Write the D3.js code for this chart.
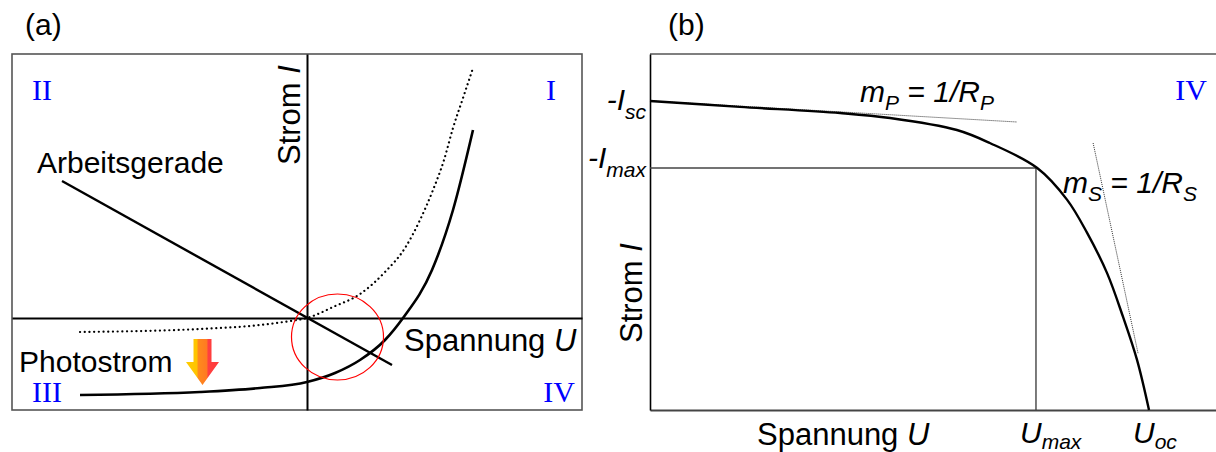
<!DOCTYPE html>
<html><head><meta charset="utf-8">
<script src="https://cdn.jsdelivr.net/npm/d3@7"></script>
<style>
html,body{margin:0;padding:0;background:#fff;}
svg{display:block;font-family:"Liberation Sans",Arial,sans-serif;}
</style></head>
<body><svg id="c" width="1216" height="452"></svg>
<script>
// ---------- DATA ----------
// Panel (a): characteristic curves (U, I) in arbitrary units
const darkCurveU = [-4.54,-2.14,-0.94,0,0.56,1.06,1.56,1.92,2.5,2.92,3.32];
const darkCurveI = [-1.54,-1.48,-1.40,-1.28,-1.10,-0.84,-0.44,0,0.96,2.16,3.76];
const lightCurveU = [-4.54,-2.14,-0.94,-0.34,0,0.52,1.06,1.56,1.96,2.26,2.52,2.74,2.92,3.12,3.32];
const lightCurveI = [-0.28,-0.22,-0.14,-0.06,0,0.22,0.48,0.92,1.4,1.96,2.56,3.16,3.8,4.4,5.0];
const loadLineU = [-4.9, 1.7];
const loadLineI = [2.74, -0.94];
const quadrantLabels = ["II","I","III","IV"];
// Panel (b): 4th quadrant IV curve, normalised (U/Uoc, -I/Isc)
const ivU = [0,0.18,0.381,0.481,0.615,0.681,0.776,0.836,0.876,0.916,0.948,0.976,1.0];
const ivI = [1.0,0.981,0.961,0.945,0.906,0.864,0.783,0.68,0.573,0.443,0.301,0.162,0];
const tangentPU = [0, 0.735];
const tangentPI = [1.0, 0.932];
const tangentSU = [0.888, 0.978];
const tangentSI = [0.864, 0.184];
const mppU = 0.7735, mppI = 0.783;
const bYTickValues = [1.0, 0.783];
const bYTickSubs = ["sc","max"];
const bXTickValues = [0.7735, 1.0];
const bXTickSubs = ["max","oc"];

// ---------- DRAW ----------
const svg = d3.select("#c");
const blue = "#0000ff";
const serif = "'Liberation Serif','Times New Roman',serif";

// ===== Panel (a) =====
const aX = d3.scaleLinear().domain([-5.9, 5.5]).range([12, 582]);
const aY = d3.scaleLinear().domain([-1.84, 5.28]).range([410, 54]);
const ga = svg.append("g");

ga.append("rect").attr("x", aX(-5.9)).attr("y", aY(5.28))
  .attr("width", aX(5.5)-aX(-5.9)).attr("height", aY(-1.84)-aY(5.28))
  .attr("fill","none").attr("stroke","#555").attr("stroke-width",1.6);

// axes through origin
ga.append("g").attr("transform",`translate(0,${aY(0)})`)
  .call(d3.axisBottom(aX).ticks(0).tickSizeOuter(0));
ga.append("g").attr("transform",`translate(${aX(0)},0)`)
  .call(d3.axisLeft(aY).ticks(0).tickSizeOuter(0));
ga.selectAll(".domain").attr("stroke","#000").attr("stroke-width",2);

const lineA = d3.line().x(d=>aX(d[0])).y(d=>aY(d[1])).curve(d3.curveMonotoneX);
ga.append("path").attr("d", lineA(lightCurveU.map((u,i)=>[u,lightCurveI[i]])))
  .attr("fill","none").attr("stroke","#000").attr("stroke-width",2.2)
  .attr("stroke-linecap","round").attr("stroke-dasharray","0.1,4.6");
ga.append("path").attr("d", lineA(darkCurveU.map((u,i)=>[u,darkCurveI[i]])))
  .attr("fill","none").attr("stroke","#000").attr("stroke-width",2.6);
ga.append("path").attr("d", d3.line().x(d=>aX(d[0])).y(d=>aY(d[1]))(loadLineU.map((u,i)=>[u,loadLineI[i]])))
  .attr("fill","none").attr("stroke","#000").attr("stroke-width",2.4);

// red ellipse around operating region
ga.append("ellipse").attr("cx", aX(0.61)).attr("cy", aY(-0.38))
  .attr("rx", aX(0.92)-aX(0)).attr("ry", aY(0)-aY(0.86))
  .attr("fill","none").attr("stroke","#ff0000").attr("stroke-width",1.2);

// Photostrom arrow (three colour bands)
const defs = svg.append("defs");
const grad = defs.append("linearGradient").attr("id","ag")
  .attr("gradientUnits","userSpaceOnUse").attr("x1",186).attr("x2",219).attr("y1",0).attr("y2",0);
[[0,"#ffcc00"],[0.33,"#ffc400"],[0.37,"#ff8a1c"],[0.63,"#ff7a22"],[0.67,"#ff4040"],[1,"#ff3a3a"]]
  .forEach(s=>grad.append("stop").attr("offset",s[0]).attr("stop-color",s[1]));
const ax0 = 202.5, ay0 = 339;
ga.append("path").attr("d",
  `M${ax0-9},${ay0} L${ax0+9},${ay0} L${ax0+9},${ay0+23} L${ax0+16.5},${ay0+23} L${ax0},${ay0+46} L${ax0-16.5},${ay0+23} L${ax0-9},${ay0+23} Z`)
  .attr("fill","url(#ag)");

// text (a)
ga.append("text").attr("x",25).attr("y",35).attr("font-size",30).text("(a)");
ga.append("text").attr("x",37).attr("y",173).attr("font-size",30).text("Arbeitsgerade");
ga.append("text").attr("x",19).attr("y",372).attr("font-size",30).text("Photostrom");
const sp = ga.append("text").attr("x",404).attr("y",351).attr("font-size",31);
sp.append("tspan").text("Spannung ");
sp.append("tspan").attr("font-style","italic").text("U");
const st = ga.append("text").attr("transform","translate(300,165) rotate(-90)").attr("font-size",31);
st.append("tspan").text("Strom ");
st.append("tspan").attr("font-style","italic").text("I");

const qPos = [[32,100,"start"],[556,100,"end"],[32,402,"start"],[575,402,"end"]];
quadrantLabels.forEach((q,i)=>{
  ga.append("text").attr("x",qPos[i][0]).attr("y",qPos[i][1]).attr("text-anchor",qPos[i][2])
    .attr("font-family",serif).attr("font-size",30).attr("fill",blue).text(q);
});

// ===== Panel (b) =====
const bX = d3.scaleLinear().domain([0, 1.2]).range([650, 1248.8]);
const bY = d3.scaleLinear().domain([0, 1.152]).range([410, 54]);
const gb = svg.append("g");

gb.append("line").attr("x1",bX(0)).attr("x2",bX(1.2)).attr("y1",bY(1.152)).attr("y2",bY(1.152))
  .attr("stroke","#555").attr("stroke-width",1.6);
const bxAxis = gb.append("g").attr("transform",`translate(0,${bY(0)})`)
  .call(d3.axisBottom(bX).ticks(0).tickSizeOuter(0));
bxAxis.select(".domain").attr("stroke","#444").attr("stroke-width",1.8);
const byAxis = gb.append("g").attr("transform",`translate(${bX(0)},0)`)
  .call(d3.axisLeft(bY).ticks(0).tickSizeOuter(0));
byAxis.select(".domain").attr("stroke","#000").attr("stroke-width",1.6);

// MPP rectangle lines
gb.append("line").attr("x1",bX(0)).attr("x2",bX(mppU)).attr("y1",bY(mppI)).attr("y2",bY(mppI))
  .attr("stroke","#444").attr("stroke-width",1.4);
gb.append("line").attr("x1",bX(mppU)).attr("x2",bX(mppU)).attr("y1",bY(mppI)).attr("y2",bY(0))
  .attr("stroke","#444").attr("stroke-width",1.4);

// tangents
const lineB = d3.line().x(d=>bX(d[0])).y(d=>bY(d[1]));
gb.append("path").attr("d", lineB(tangentPU.map((u,i)=>[u,tangentPI[i]])))
  .attr("fill","none").attr("stroke","#333").attr("stroke-width",1).attr("stroke-dasharray","1,1");
gb.append("path").attr("d", lineB(tangentSU.map((u,i)=>[u,tangentSI[i]])))
  .attr("fill","none").attr("stroke","#333").attr("stroke-width",1).attr("stroke-dasharray","1,1");

// IV curve
gb.append("path").attr("d", d3.line().x(d=>bX(d[0])).y(d=>bY(d[1])).curve(d3.curveCatmullRom)(ivU.map((u,i)=>[u,ivI[i]])))
  .attr("fill","none").attr("stroke","#000").attr("stroke-width",2.4);

// tick labels y
bYTickValues.forEach((v,i)=>{
  const t = gb.append("text").attr("x",bX(0)-4).attr("y",bY(v)+(i===0?9:0))
    .attr("text-anchor","end").attr("font-size",30).attr("font-style","italic");
  t.append("tspan").text("-I");
  t.append("tspan").attr("font-size",21).attr("dy",9).text(bYTickSubs[i]);
});
// tick labels x
bXTickValues.forEach((v,i)=>{
  const t = gb.append("text").attr("x",bX(v)-16).attr("y",443)
    .attr("font-size",30).attr("font-style","italic");
  t.append("tspan").text("U");
  t.append("tspan").attr("font-size",21).attr("dy",6).text(bXTickSubs[i]);
});

gb.append("text").attr("x",668).attr("y",35).attr("font-size",30).text("(b)");
gb.append("text").attr("x",1207).attr("y",100).attr("text-anchor","end")
  .attr("font-family",serif).attr("font-size",30).attr("fill",blue).text("IV");

const sp2 = gb.append("text").attr("x",757).attr("y",445).attr("font-size",31);
sp2.append("tspan").text("Spannung ");
sp2.append("tspan").attr("font-style","italic").text("U");
const st2 = gb.append("text").attr("transform","translate(642,343) rotate(-90)").attr("font-size",31);
st2.append("tspan").text("Strom ");
st2.append("tspan").attr("font-style","italic").text("I");

function slopeLabel(x, y, sub){
  const t = gb.append("text").attr("x",x).attr("y",y).attr("font-size",30).attr("font-style","italic");
  t.append("tspan").text("m");
  t.append("tspan").attr("font-size",21).attr("dy",8).text(sub);
  t.append("tspan").attr("dy",-8).text(" = 1/R");
  t.append("tspan").attr("font-size",21).attr("dy",8).text(sub);
}
slopeLabel(860, 102, "P");
slopeLabel(1063, 193, "S");
</script>
</body></html>
